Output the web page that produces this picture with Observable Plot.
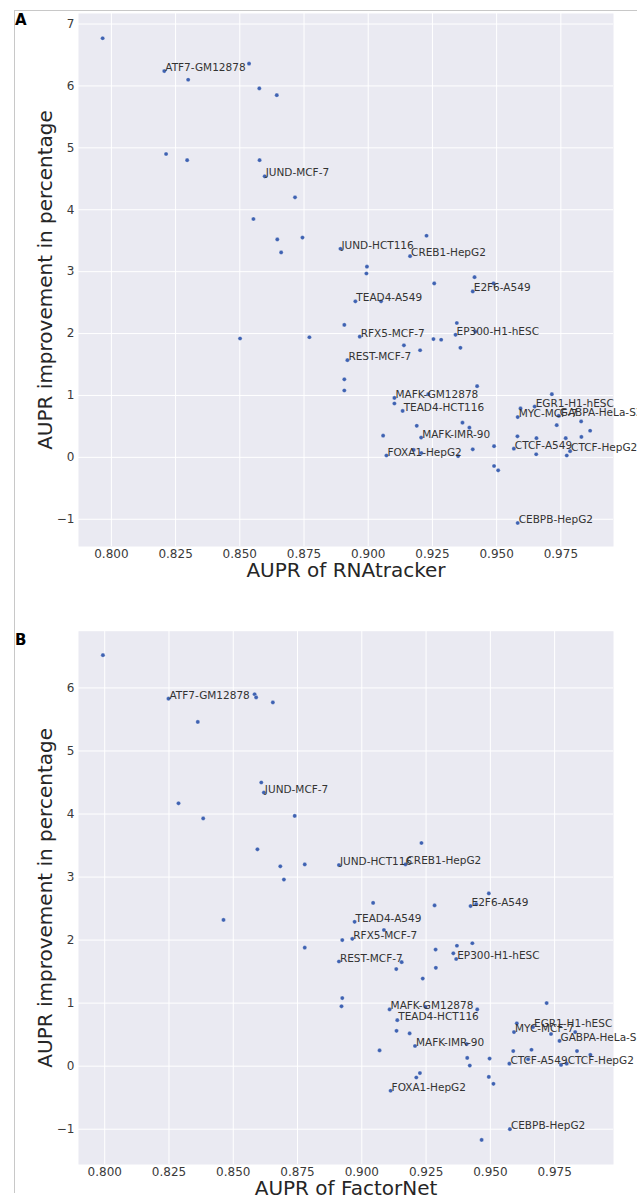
<!DOCTYPE html>
<html>
<head>
<meta charset="utf-8">
<script src="https://cdn.jsdelivr.net/npm/d3@7"></script>
<script src="https://cdn.jsdelivr.net/npm/@observablehq/plot@0.6"></script>
<style>
  html, body { margin: 0; padding: 0; background: #fff; }
  body { width: 637px; height: 1198px; position: relative; overflow: hidden; font-family: "DejaVu Sans", sans-serif; }
  #frame { position: absolute; left: 14px; top: 10px; width: 623px; height: 1183px; border-left: 1px solid #c8c8c8; border-top: 1px solid #c8c8c8; box-sizing: border-box; }
  .panel { position: absolute; left: 0; }
  .letter { position: absolute; left: 15px; font: bold 15px "DejaVu Sans", sans-serif; color: #000; }
</style>
</head>
<body>
<div id="frame"></div>
<div id="panelA" class="panel" style="top:0px"></div>
<div id="panelB" class="panel" style="top:590px"></div>
<div class="letter" style="top:11px">A</div>
<div class="letter" style="top:631px">B</div>
<script>
// ---------- Panel A: RNAtracker ----------
const aX = [0.7966,0.8206,0.8536,0.8299,0.8576,0.8644,0.8213,0.8295,0.8577,0.8597,0.8715,0.8553,0.8646,0.8744,0.8661,
  0.8892,0.9227,0.9163,0.8995,0.8993,0.9257,0.9414,0.9488,0.9407,0.8950,0.9050,0.8907,0.8771,0.8501,0.8967,
  0.9139,0.9202,0.9254,0.9284,0.9345,0.9340,0.9417,0.9359,0.8919,0.8907,0.8907,0.9424,0.9102,0.9234,0.9102,
  0.9134,0.9189,0.9058,0.9206,0.9367,0.9394,0.9071,0.9177,0.9207,0.9350,0.9407,0.9490,0.9490,0.9506,0.9581,
  0.9567,0.9655,0.9654,0.9715,0.9648,0.9593,0.9582,0.9742,0.9734,0.9829,0.9864,0.9769,0.9830,0.9786,0.9773,0.9582];
const aY = [6.77,6.24,6.36,6.10,5.96,5.85,4.90,4.80,4.80,4.54,4.20,3.85,3.52,3.55,3.31,
  3.37,3.58,3.25,3.08,2.97,2.81,2.91,2.81,2.68,2.52,2.52,2.14,1.94,1.92,1.95,
  1.81,1.73,1.91,1.90,2.17,1.98,2.03,1.77,1.57,1.26,1.08,1.15,0.96,1.02,0.87,
  0.75,0.51,0.35,0.32,0.56,0.48,0.03,0.12,0.07,0.02,0.13,0.18,-0.14,-0.21,0.34,
  0.14,0.31,0.05,1.02,0.82,0.79,0.65,0.67,0.52,0.58,0.43,0.31,0.33,0.10,0.03,-1.06];
const aLabel = ["","ATF7-GM12878","","","","","","","","JUND-MCF-7","","","","","",
  "JUND-HCT116","","CREB1-HepG2","","","","","","E2F6-A549","TEAD4-A549","","","","","RFX5-MCF-7",
  "","","","","","EP300-H1-hESC","","","REST-MCF-7","","","","MAFK-GM12878","","",
  "TEAD4-HCT116","","","MAFK-IMR-90","","","FOXA1-HepG2","","","","","","","","",
  "CTCF-A549","","","","EGR1-H1-hESC","","MYC-MCF-7","GABPA-HeLa-S3","","","","","","CTCF-HepG2","","CEBPB-HepG2"];

// ---------- Panel B: FactorNet ----------
const bX = [0.7993,0.8248,0.8583,0.8589,0.8654,0.8362,0.8609,0.8619,0.8287,0.8383,0.8739,0.8594,0.8683,0.8778,0.8697,
  0.8911,0.9232,0.9170,0.8462,0.8778,0.9494,0.9044,0.9283,0.9423,0.9445,0.8972,0.9086,0.8924,0.8963,0.9370,
  0.9430,0.9287,0.9356,0.9367,0.8911,0.9155,0.9134,0.9288,0.9237,0.8924,0.8921,0.9108,0.9248,0.9449,0.9719,
  0.9138,0.9135,0.9186,0.9069,0.9207,0.9408,0.9410,0.9420,0.9497,0.9494,0.9512,0.9226,0.9212,0.9112,0.9466,
  0.9576,0.9603,0.9592,0.9666,0.9736,0.9830,0.9769,0.9589,0.9660,0.9837,0.9889,0.9574,0.9647,0.9775,0.9797];
const bY = [6.52,5.83,5.90,5.85,5.77,5.46,4.50,4.34,4.17,3.93,3.97,3.44,3.17,3.20,2.96,
  3.19,3.54,3.20,2.32,1.88,2.74,2.59,2.55,2.54,2.57,2.29,2.16,2.00,2.02,1.91,
  1.95,1.85,1.79,1.70,1.66,1.65,1.54,1.56,1.39,1.08,0.95,0.90,0.94,0.90,1.00,
  0.73,0.56,0.52,0.25,0.32,0.35,0.13,0.01,0.12,-0.17,-0.28,-0.11,-0.18,-0.39,-1.17,
  -1.00,0.68,0.54,0.62,0.51,0.54,0.40,0.24,0.26,0.24,0.18,0.04,0.11,0.02,0.04];
const bLabel = ["","ATF7-GM12878","","","","","","JUND-MCF-7","","","","","","","",
  "JUND-HCT116","","CREB1-HepG2","","","","","","E2F6-A549","","TEAD4-A549","","","RFX5-MCF-7","",
  "","","","EP300-H1-hESC","REST-MCF-7","","","","","","","MAFK-GM12878","","","",
  "TEAD4-HCT116","","","","MAFK-IMR-90","","","","","","","","","FOXA1-HepG2","",
  "CEBPB-HepG2","","MYC-MCF-7","EGR1-H1-hESC","","","GABPA-HeLa-S3","","","","","CTCF-A549","","","CTCF-HepG2"];

const xTicks = [0.800, 0.825, 0.850, 0.875, 0.900, 0.925, 0.950, 0.975];
const yTicksA = [-1, 0, 1, 2, 3, 4, 5, 6, 7];
const yTicksB = [-1, 0, 1, 2, 3, 4, 5, 6];
const yFormat = d => (d < 0 ? "\u2212" : "") + Math.abs(d);

function panel({xs, ys, labels, xDomain, yDomain, yTicks, height, marginTop, marginBottom, xTitle}) {
  const rows = xs.map((x, i) => ({x, y: ys[i], label: labels[i]}));
  return Plot.plot({
    width: 637,
    height,
    marginLeft: 78,
    marginRight: 24,
    marginTop,
    marginBottom,
    style: {fontFamily: "DejaVu Sans, sans-serif", background: "transparent", overflow: "hidden"},
    x: {domain: xDomain},
    y: {domain: yDomain},
    marks: [
      Plot.frame({fill: "#EAEAF2", stroke: null}),
      Plot.gridX(xTicks, {stroke: "white", strokeOpacity: 1, strokeWidth: 1}),
      Plot.gridY(yTicks, {stroke: "white", strokeOpacity: 1, strokeWidth: 1}),
      Plot.axisX(xTicks, {tickSize: 0, tickPadding: 3, tickFormat: d3.format(".3f"), fontSize: 12, color: "#3a3a3a", label: null}),
      Plot.axisY(yTicks, {tickSize: 0, tickPadding: 4, tickFormat: yFormat, fontSize: 12, color: "#3a3a3a", label: null}),
      Plot.dot(rows, {x: "x", y: "y", r: 2.1, fill: "#3F62B2", stroke: "white", strokeWidth: 0.3}),
      Plot.text(rows.filter(d => d.label), {x: "x", y: "y", text: "label", textAnchor: "start", lineAnchor: "bottom", dx: 1, fontSize: 10.5, fill: "#333"}),
      Plot.text([xTitle], {frameAnchor: "bottom", textAnchor: "middle", lineAnchor: "middle", dy: 24, fontSize: 20, fill: "#262626"}),
      Plot.text(["AUPR improvement in percentage"], {frameAnchor: "left", textAnchor: "middle", lineAnchor: "middle", rotate: -90, dx: -33, fontSize: 20, fill: "#262626"})
    ]
  });
}

document.getElementById("panelA").appendChild(panel({
  xs: aX, ys: aY, labels: aLabel,
  xDomain: [0.7872, 0.9955], yDomain: [-1.44, 7.17], yTicks: yTicksA,
  height: 590, marginTop: 13, marginBottom: 44, xTitle: "AUPR of RNAtracker"
}));
document.getElementById("panelB").appendChild(panel({
  xs: bX, ys: bY, labels: bLabel,
  xDomain: [0.7898, 0.9979], yDomain: [-1.56, 6.90], yTicks: yTicksB,
  height: 608, marginTop: 40.7, marginBottom: 34, xTitle: "AUPR of FactorNet"
}));
</script>
</body>
</html>
